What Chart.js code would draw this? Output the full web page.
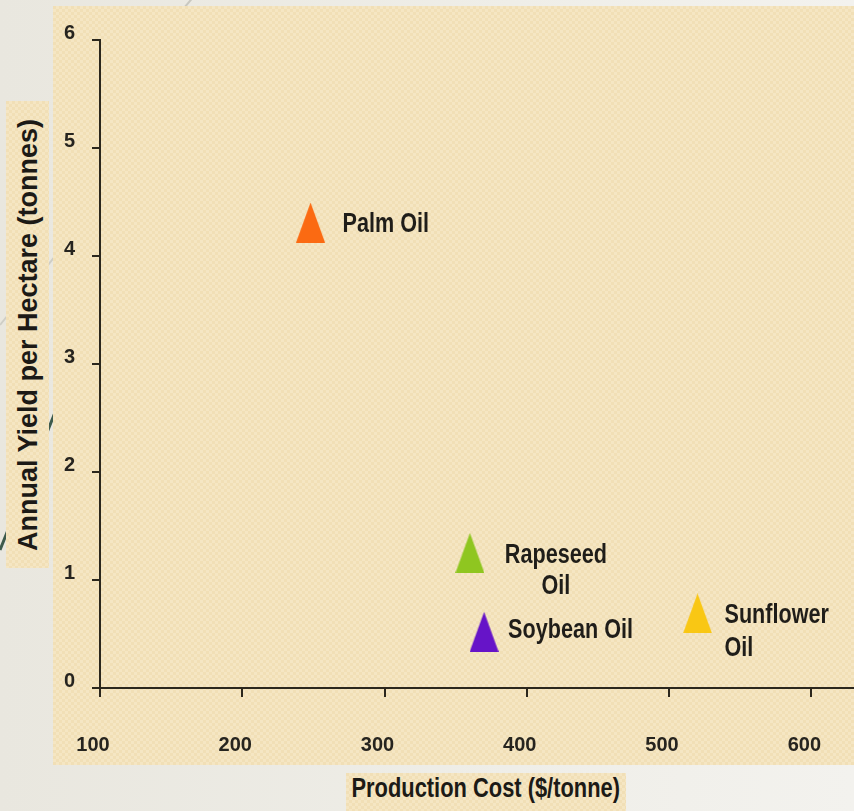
<!DOCTYPE html>
<html>
<head>
<meta charset="utf-8">
<script src="https://cdn.jsdelivr.net/npm/chart.js@4.4.1/dist/chart.umd.min.js"></script>
<style>
  html, body { margin: 0; padding: 0; }
  body {
    width: 854px; height: 811px; position: relative; overflow: hidden;
    background: linear-gradient(90deg, #e9e7df 0%, #efeee8 60%, #f3f2ee 100%);
  }
  .beige {
    background-color: #f4e4bf;
    background-image: repeating-conic-gradient(#f5e6c3 0 25%, #f1dfb6 0 50%);
    background-size: 6px 6px;
  }
  .panel { position: absolute; left: 53px; top: 6px; width: 801px; height: 759px; }
  .ybox { position: absolute; left: 6px; top: 101px; width: 43px; height: 467px; }
  .ybox span {
    position: absolute; left: 50%; top: 50%; white-space: nowrap;
    transform: translate(-50%, -50%) rotate(-90deg);
    font: bold 27px "Liberation Sans", Arial, sans-serif; color: #1c1a16;
    line-height: 30px;
  }
  .xbox {
    position: absolute; left: 346px; top: 773px; width: 280px; height: 38px;
    text-align: center; white-space: nowrap;
  }
  .xbox span {
    display: inline-block; transform: scaleX(0.81); transform-origin: center;
    font: bold 27px "Liberation Sans", Arial, sans-serif;
    color: #1c1a16; line-height: 30px; margin-left: -40px; margin-right: -40px;
  }
  svg.deco { position: absolute; left: 0; top: 0; }
  canvas { position: absolute; left: 53px; top: 6px; }
</style>
</head>
<body>
<svg class="deco" width="854" height="811">
  <line x1="195" y1="-5" x2="140" y2="60" stroke="#c9c8c0" stroke-width="2"/>
  <line x1="60" y1="250" x2="0" y2="325" stroke="#cfcec6" stroke-width="2"/>
  <line x1="58" y1="405" x2="0" y2="550" stroke="#3d5a4c" stroke-width="3"/>
</svg>
<div class="panel beige"></div>
<div class="ybox beige"><span>Annual Yield per Hectare (tonnes)</span></div>
<div class="xbox beige"><span>Production Cost ($/tonne)</span></div>
<canvas id="chart" width="801" height="759"></canvas>
<script>
// values
const oils = ['Palm Oil', 'Rapeseed Oil', 'Soybean Oil', 'Sunflower Oil'];
const oilLabelLines = [['Palm Oil'], ['Rapeseed', 'Oil'], ['Soybean Oil'], ['Sunflower', 'Oil']];
const productionCost = [248, 360, 370, 520];
const annualYield = [4.31, 1.25, 0.52, 0.69];
const oilColors = ['#fb6a12', '#8fc620', '#6614c8', '#f9c714'];
const xTicks = [100, 200, 300, 400, 500, 600];
const yTicks = [0, 1, 2, 3, 4, 5, 6];

const fontFamily = '"Liberation Sans", Arial, sans-serif';
const axisColor = '#2b271d';
const textColor = '#26241f';

// tall triangle marker
function makeTriangle(color) {
  const w = 29, h = 40;
  const c = document.createElement('canvas');
  c.width = w; c.height = h;
  const g = c.getContext('2d');
  g.fillStyle = color;
  g.beginPath();
  g.moveTo(w / 2, 0);
  g.lineTo(w, h);
  g.lineTo(0, h);
  g.closePath();
  g.fill();
  return c;
}
const markers = oilColors.map(makeTriangle);

// label placement next to each marker
const labelStyle = [
  { dx: 32, dy: 2, align: 'left', lh: 31 },
  { dx: 86, dy: 3, align: 'center', lh: 31 },
  { dx: 24, dy: -1, align: 'left', lh: 31 },
  { dx: 27, dy: 2, align: 'left', lh: 33 },
];

const pointLabels = {
  id: 'pointLabels',
  afterDatasetsDraw(chart) {
    const ctx = chart.ctx;
    const meta = chart.getDatasetMeta(0);
    meta.data.forEach((pt, i) => {
      const s = labelStyle[i];
      oilLabelLines[i].forEach((line, j) => {
        ctx.save();
        ctx.font = 'bold 27px ' + fontFamily;
        ctx.fillStyle = '#1f1d19';
        ctx.textBaseline = 'middle';
        ctx.textAlign = s.align;
        ctx.translate(pt.x + s.dx, pt.y + s.dy + j * s.lh);
        ctx.scale(0.8, 1); // condensed look
        ctx.fillText(line, 0, 0);
        ctx.restore();
      });
    });
  }
};

new Chart(document.getElementById('chart'), {
  type: 'scatter',
  data: {
    datasets: [{
      label: 'Oils',
      data: productionCost.map((c, i) => ({ x: c, y: annualYield[i] })),
      pointStyle: ctx => markers[ctx.dataIndex],
      backgroundColor: oilColors,
      borderWidth: 0,
    }]
  },
  options: {
    responsive: false,
    animation: false,
    devicePixelRatio: 1,
    events: [],
    layout: { autoPadding: false, padding: { top: 34, left: 0, right: 0, bottom: 0 } },
    plugins: { legend: { display: false }, tooltip: { enabled: false } },
    scales: {
      x: {
        type: 'linear', min: 100, max: 630,
        afterBuildTicks: s => { s.ticks = xTicks.map(v => ({ value: v })); },
        afterFit: s => { s.height = 77; s.paddingLeft = 0; s.paddingRight = 0; },
        grid: { drawOnChartArea: false, drawTicks: true, tickLength: 9, color: axisColor, tickColor: axisColor, lineWidth: 2 },
        border: { display: true, color: axisColor, width: 2 },
        ticks: { font: { family: fontFamily, size: 20, weight: 'bold' }, color: textColor, padding: 36, labelOffset: -7, maxRotation: 0 },
      },
      y: {
        type: 'linear', min: 0, max: 6,
        afterBuildTicks: s => { s.ticks = yTicks.map(v => ({ value: v })); },
        afterFit: s => { s.width = 47; s.paddingTop = 0; s.paddingBottom = 0; },
        grid: { drawOnChartArea: false, drawTicks: true, tickLength: 8, color: axisColor, tickColor: axisColor, lineWidth: 2 },
        border: { display: true, color: axisColor, width: 2 },
        ticks: { font: { family: fontFamily, size: 20, weight: 'bold' }, color: textColor, padding: 17, labelOffset: -7 },
      }
    }
  },
  plugins: [pointLabels]
});
</script>
</body>
</html>
